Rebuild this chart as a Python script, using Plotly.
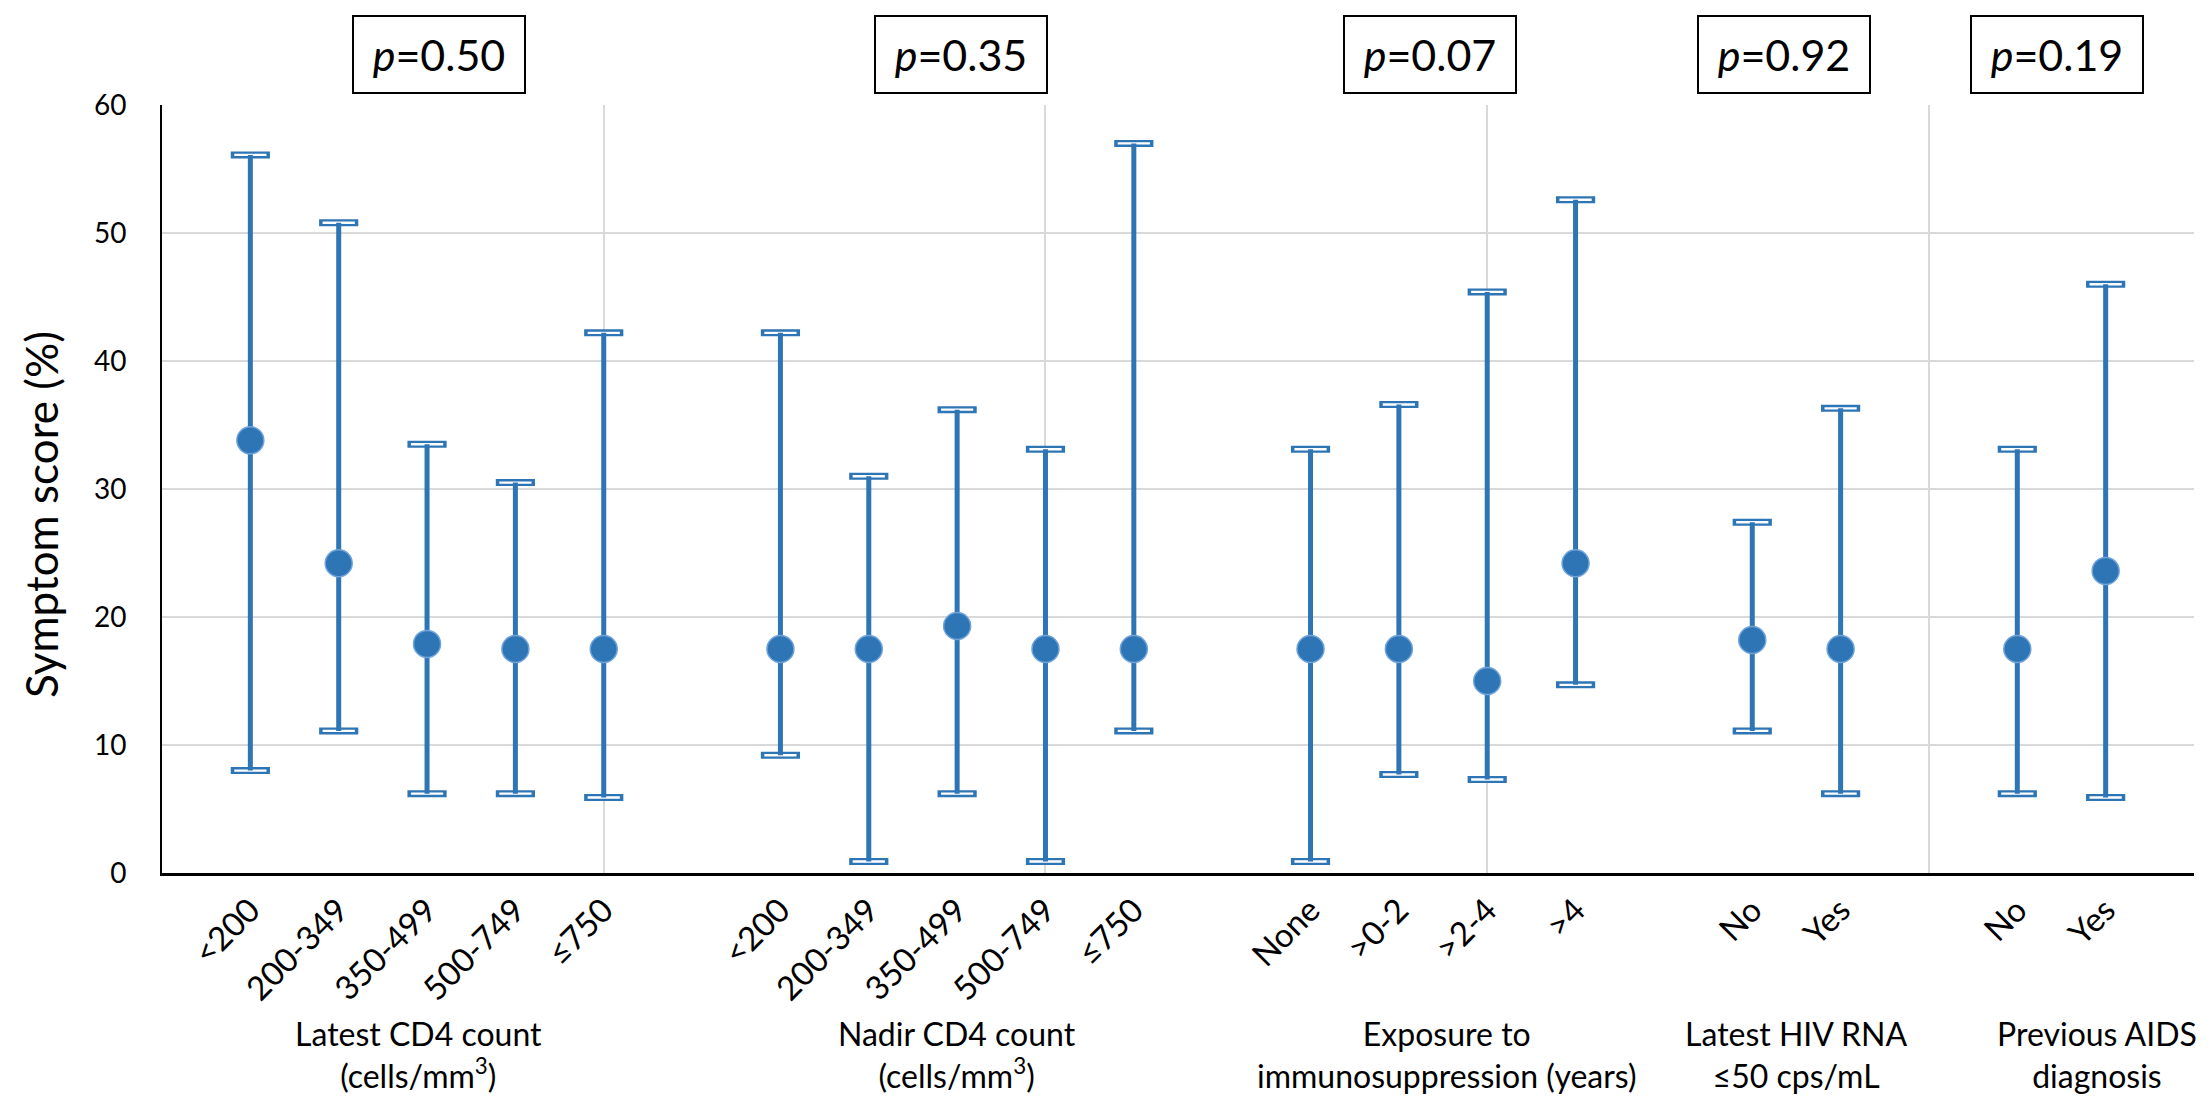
import plotly.graph_objects as go

# ---------------- data ----------------
group_titles = [
    "Latest CD4 count<br>(cells/mm<sup>3</sup>)",
    "Nadir CD4 count<br>(cells/mm<sup>3</sup>)",
    "Exposure to<br>immunosuppression (years)",
    "Latest HIV RNA<br>≤50 cps/mL",
    "Previous AIDS<br>diagnosis",
]
group_categories = [
    ["<200", "200-349", "350-499", "500-749", "≤750"],
    ["<200", "200-349", "350-499", "500-749", "≤750"],
    ["None", ">0-2", ">2-4", ">4"],
    ["No", "Yes"],
    ["No", "Yes"],
]
score_mean = [
    [33.8, 24.2, 17.9, 17.5, 17.5],
    [17.5, 17.5, 19.3, 17.5, 17.5],
    [17.5, 17.5, 15.0, 24.2],
    [18.2, 17.5],
    [17.5, 23.6],
]
score_low = [
    [8.0, 11.1, 6.2, 6.2, 5.9],
    [9.2, 0.9, 6.2, 0.9, 11.1],
    [0.9, 7.7, 7.3, 14.7],
    [11.1, 6.2],
    [6.2, 5.9],
]
score_high = [
    [56.1, 50.8, 33.5, 30.5, 42.2],
    [42.2, 31.0, 36.2, 33.1, 57.0],
    [33.1, 36.6, 45.4, 52.6],
    [27.4, 36.3],
    [33.1, 46.0],
]
p_values = ["0.50", "0.35", "0.07", "0.92", "0.19"]
y_title = "Symptom score (%)"

# ---------------- layout helpers ----------------
FONT = "Lato, Carlito, 'Open Sans', sans-serif"
BLUE = "#2E75B6"
GRID = "#D9D9D9"

# category slots: one empty slot before each group (Excel-like spacing)
xs, labels, means, lows, highs = [], [], [], [], []
slot = 1
for g, cats in enumerate(group_categories):
    for i, c in enumerate(cats):
        xs.append(slot)
        labels.append(c)
        means.append(score_mean[g][i])
        lows.append(score_low[g][i])
        highs.append(score_high[g][i])
        slot += 1
    slot += 1
x_max = slot - 1

fig = go.Figure()

# error-bar caps: hollow rectangles (outer blue + inner white)
fig.add_trace(go.Scatter(
    x=xs + xs, y=lows + highs, mode="markers", hoverinfo="skip",
    marker=dict(symbol="line-ew", size=28, line=dict(width=7, color=BLUE)),
    showlegend=False))
fig.add_trace(go.Scatter(
    x=xs + xs, y=lows + highs, mode="markers", hoverinfo="skip",
    marker=dict(symbol="line-ew", size=23, line=dict(width=2.4, color="white")),
    showlegend=False))

# stems + mean markers
fig.add_trace(go.Scatter(
    x=xs, y=means, mode="markers",
    error_y=dict(type="data", symmetric=False,
                 array=[h - m for h, m in zip(highs, means)],
                 arrayminus=[m - l for m, l in zip(means, lows)],
                 color=BLUE, thickness=5, width=0),
    marker=dict(size=27, color=BLUE, line=dict(width=1.5, color="#6FA3DA")),
    showlegend=False))

W, H = 2211, 1099
PLOT_LEFT, PLOT_RIGHT = 154, 2186
PLOT_TOP, PLOT_BOTTOM = 97, 865
plot_h = PLOT_BOTTOM - PLOT_TOP
plot_w = PLOT_RIGHT - PLOT_LEFT

annotations = []
p_box_x = [3.14, 9.04, 14.35, 18.36, 21.45]
for px, pv in zip(p_box_x, p_values):
    annotations.append(dict(
        x=px, xref="x", y=1 + (PLOT_TOP - 46.5) / plot_h, yref="paper",
        text=f"<i>p</i>={pv}", showarrow=False,
        font=dict(family=FONT, size=43, color="black"),
        bordercolor="black", borderwidth=2, borderpad=0,
        width=170, height=75, bgcolor="white",
        xanchor="center", yanchor="middle"))

group_label_x = [2.9, 9.0, 14.55, 18.5, 21.9]
for gx, title in zip(group_label_x, group_titles):
    annotations.append(dict(
        x=gx, xref="x", y=-(1004 - PLOT_BOTTOM) / plot_h, yref="paper",
        text=title, showarrow=False,
        font=dict(family=FONT, size=32, color="black"),
        xanchor="center", yanchor="top", align="center"))

# y-axis title (placed like the Excel text)
annotations.append(dict(
    x=(33 - PLOT_LEFT) / plot_w, xref="paper",
    y=(PLOT_BOTTOM - 507) / plot_h, yref="paper",
    text=y_title, textangle=-90, showarrow=False,
    font=dict(family=FONT, size=44, color="black"),
    xanchor="center", yanchor="middle"))

fig.update_layout(
    width=W, height=H,
    margin=dict(l=PLOT_LEFT, r=W - PLOT_RIGHT, t=PLOT_TOP, b=H - PLOT_BOTTOM),
    plot_bgcolor="white", paper_bgcolor="white",
    font=dict(family=FONT, color="black"),
    annotations=annotations,
    xaxis=dict(
        range=[0, x_max], tickmode="array", tickvals=xs, ticktext=labels,
        tickangle=-45, tickfont=dict(family=FONT, size=33, color="black"),
        ticks="", ticklabelstandoff=2,
        showgrid=False, zeroline=False,
        showline=True, linecolor="black", linewidth=2.5,
        minor=dict(tickmode="linear", tick0=0, dtick=5, showgrid=True,
                   gridcolor=GRID, gridwidth=1.5, ticks=""),
    ),
    yaxis=dict(
        range=[0, 60], dtick=10, tick0=0,
        tickfont=dict(family=FONT, size=28, color="black"),
        ticks="", ticklabelstandoff=28,
        showgrid=True, gridcolor=GRID, gridwidth=1.5, zeroline=False,
        showline=True, linecolor="black", linewidth=2,
    ),
)

fig.write_html("out.html")
